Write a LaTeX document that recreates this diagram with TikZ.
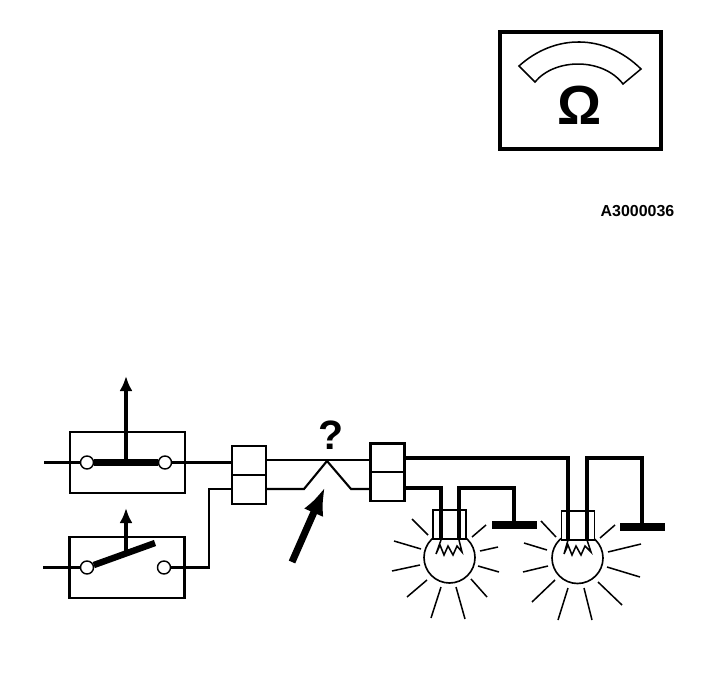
\documentclass[tikz,border=0pt]{standalone}
\usepackage{fontspec}
\setmainfont{Liberation Sans}
\usetikzlibrary{arrows.meta}
\def\px{0.03cm}
\tikzset{
  wire/.style={line width=1.8pt},
  hairwire/.style={line width=0.9pt},
  heavywire/.style={line width=3pt},
  ray/.style={line width=1.3pt},
  swbox/.style={draw,line width=1.9pt,minimum width=115*\px,minimum height=61*\px,inner sep=0pt,outer sep=0pt},
  terminal/.style={draw,circle,fill=white,line width=1.2pt,minimum size=13*\px,inner sep=0pt},
  connbox/.style={draw,fill=white,line width=1.9pt,minimum width=34*\px,minimum height=29*\px,inner sep=0pt,outer sep=0pt},
  basebox/.style={draw,fill=white,line width=1.3pt,minimum width=33*\px,minimum height=29*\px,inner sep=0pt,outer sep=0pt},
  lamp/.style={draw,circle,line width=1.4pt,minimum size=51*\px,inner sep=0pt},
  earthbar/.style={line width=6pt},
  pointer/.style={line width=3.8pt,-{Latex[length=15*\px,width=13*\px]}},
  pointerbig/.style={line width=6pt,-{Latex[length=28*\px,width=21*\px]}}
}
\begin{document}
\begin{tikzpicture}[x=\px,y=-\px]
  \useasboundingbox (0,0) rectangle (704,682);
  % meter
  \node[draw,line width=3pt,minimum width=161*\px,minimum height=117*\px,inner sep=0pt,outer sep=0pt] (meter) at (580.5,90.5) {};
  \draw[line width=1.3pt] (519,66) .. controls (555,33.5) and (605,33.5) .. (641,69)
    -- (623,84) .. controls (603,57.7) and (555,57.7) .. (535,82) -- cycle;
  \node[font=\bfseries\fontsize{47}{47}\selectfont,inner sep=0pt] (omega) at (580,105) {Ω};
  \node[font=\bfseries\fontsize{13.6}{14}\selectfont,inner sep=0pt] (code) at (637.5,211) {A3000036};
  % switches
  \node[swbox] (swa) at (127.5,462.5) {};
  \node[swbox] (swb) at (127,567.5) {};
  \coordinate (swaup) at (126,376);
  \coordinate (swaroot) at (126,462.5);
  \coordinate (swbup) at (126,508);
  \coordinate (swbroot) at (126,552);
  \coordinate (swbtip) at (155,543);
  \coordinate (ina) at (44,462.5);
  \coordinate (inb) at (43,567.5);
  \node[terminal] (ta1) at (87,462.5) {};
  \node[terminal] (ta2) at (165,462.5) {};
  \node[terminal] (tb1) at (87,567.5) {};
  \node[terminal] (tb2) at (164,567.5) {};
  % connectors
  \node[connbox] (cla) at (249,460.5) {};
  \node[connbox] (clb) at (249,489.5) {};
  \node[connbox] (cra) at (387.5,458) {};
  \node[connbox] (crb) at (387.5,486.5) {};
  \coordinate (claout) at (266,460);
  \coordinate (clbout) at (266,489);
  \coordinate (craout) at (404,458);
  \coordinate (crbout) at (404,488);
  \coordinate (crain) at (370.5,460);
  \coordinate (crbin) at (370.5,489);
  \coordinate (clain) at (232,462.5);
  \coordinate (clbin) at (232,489);
  \coordinate (kink1) at (304,489);
  \coordinate (kink2) at (327,461);
  \coordinate (kink3) at (351,489);
  \node[font=\bfseries\fontsize{35}{35}\selectfont,inner sep=0pt] (query) at (331,435) {?};
  \coordinate (faultfrom) at (292,562);
  \coordinate (faultto) at (325,487);
  % lamps
  \node[lamp] (lampa) at (449.5,557.5) {};
  \node[lamp] (lampb) at (577.5,558) {};
  \node[basebox] (basea) at (449.5,524.5) {};
  \node[basebox] (baseb) at (578,525.5) {};
  \coordinate (earthaL) at (492,525);
  \coordinate (earthaR) at (537,525);
  \coordinate (earthbL) at (620,527);
  \coordinate (earthbR) at (665,527);
  \coordinate (ea) at (514,525);
  \coordinate (eb) at (642,527);
  \coordinate (ta) at (459,488);
  \coordinate (tb) at (587,458);
  \coordinate (a1) at (441,540);
  \coordinate (a2) at (459,540);
  \coordinate (b1) at (568,540);
  \coordinate (b2) at (587,540);
  \begin{scope}[wire]
    \draw (ina) to (ta1);
    \draw (ta2) to (clain);
    \draw (inb) to (tb1);
    \draw (tb2) -- (209,567.5) -- (209,489) -- (clbin);
    \draw (clbout) -- (kink1) -- (kink2) -- (kink3) -- (crbin);
  \end{scope}
  \draw[hairwire] (claout) to (crain);
  \begin{scope}[heavywire]
    \draw (craout) -| (b1);
    \draw (crbout) -| (a1);
    \draw (a2) -- (ta) -| (ea);
    \draw (b2) -- (tb) -| (eb);
  \end{scope}
  \draw[earthbar] (earthaL) to (earthaR);
  \draw[earthbar] (earthbL) to (earthbR);
  % blades and pointers
  \draw[line width=5.5pt] (ta1) to (ta2);
  \draw[line width=5.5pt] (tb1) to (swbtip);
  \draw[pointer] (swaroot) to (swaup);
  \draw[pointer] (swbroot) to (swbup);
  \draw[pointerbig] (faultfrom) to (faultto);
  % filaments
  \draw[line width=1.3pt] (a1) -- (436,554) -- (440,545) -- (444,555) -- (448,546) -- (453,555) -- (457,546) -- (462,552) -- (a2);
  \draw[line width=1.3pt] (b1) -- (564,554) -- (568,545) -- (572,555) -- (576,546) -- (581,555) -- (585,546) -- (591,552) -- (b2);
  % rays
  \foreach \xa/\ya/\xb/\yb in {
    412/519/428/535, 394/541/421/549, 392/571/420/565, 407/597/427/580,
    431/618/441/587, 465/619/456/587, 487/597/471/579, 499/572/478/566,
    498/547/480/551, 486/525/472/537,
    541/521/556/537, 524/543/547/550, 523/572/548/566, 532/602/555/580,
    558/620/568/588, 592/620/584/588, 622/605/598/582, 640/577/607/567,
    641/544/608/552, 615/525/600/538}
    \draw[ray] (\xa,\ya) -- (\xb,\yb);
\end{tikzpicture}
\end{document}
